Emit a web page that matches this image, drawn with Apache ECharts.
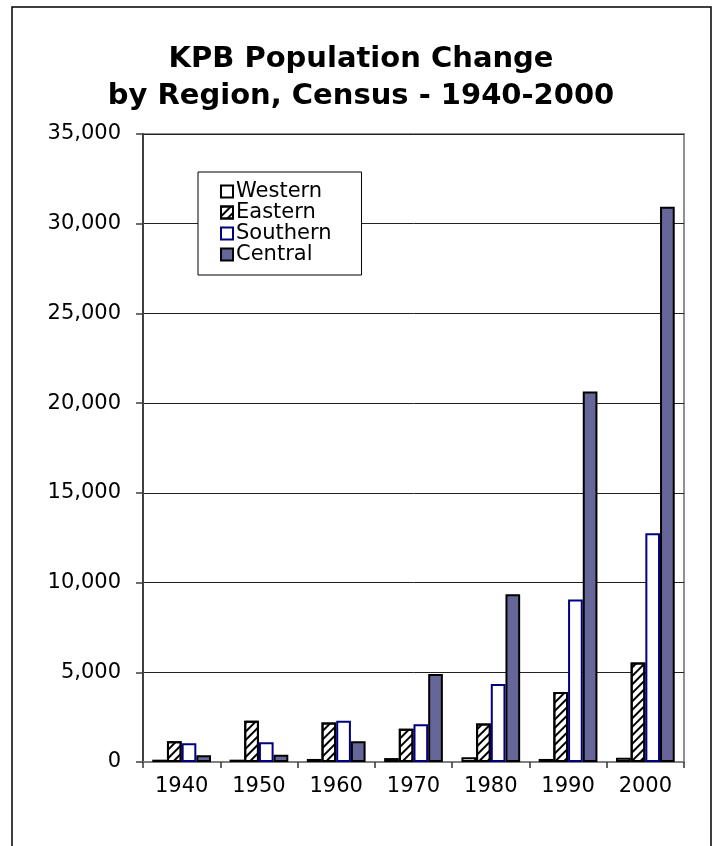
<!DOCTYPE html>
<html>
<head>
<meta charset="utf-8">
<script src="https://cdn.jsdelivr.net/npm/echarts@6/dist/echarts.min.js"></script>
<style>
html,body{margin:0;padding:0;background:#fff;}
#chart{width:722px;height:846px;}
</style>
</head>
<body>
<div id="chart"></div>
<script>
var categories = ['1940', '1950', '1960', '1970', '1980', '1990', '2000'];
var western = [130, 130, 170, 220, 260, 170, 240];
var eastern = [1150, 2300, 2200, 1850, 2150, 3900, 5550];
var southern = [1050, 1100, 2300, 2100, 4350, 9050, 12750];
var central = [380, 400, 1150, 4900, 9350, 20650, 30950];
var seriesNames = ['Western', 'Eastern', 'Southern', 'Central'];
var titleLines = ['KPB Population Change', 'by Region, Census - 1940-2000'];

var FONT = 'DejaVu Sans';
var chart = echarts.init(document.getElementById('chart'), null, {renderer: 'canvas'});

var option = {
  backgroundColor: '#fff',
  animation: false,
  title: {
    text: titleLines.join('\n'),
    left: 'center',
    top: 36,
    textStyle: {fontFamily: FONT, fontWeight: 'bold', fontSize: 29, lineHeight: 37, color: '#000'}
  },
  graphic: [{
    type: 'rect',
    shape: {x: 12, y: 7, width: 699, height: 900},
    style: {fill: 'none', stroke: '#000', lineWidth: 1.5},
    silent: true
  }],
  legend: {
    orient: 'vertical',
    left: 198,
    top: 172,
    data: seriesNames,
    icon: 'rect',
    itemWidth: 12,
    itemHeight: 12,
    itemGap: 0,
    padding: [9, 30, 10, 22],
    borderColor: '#000',
    borderWidth: 1,
    backgroundColor: '#fff',
    textStyle: {fontFamily: FONT, fontSize: 21, lineHeight: 21, color: '#000', padding: [0, 0, 0, -2]}
  },
  grid: {
    left: 143, top: 134, right: 38, bottom: 84,
    show: true, borderColor: '#909090', borderWidth: 2, backgroundColor: 'transparent'
  },
  xAxis: {
    type: 'category',
    data: categories,
    axisLine: {lineStyle: {color: '#808080', width: 2}},
    axisTick: {show: true, length: 6, lineStyle: {color: '#333', width: 1.5}},
    axisLabel: {fontFamily: FONT, fontSize: 21, color: '#000', margin: 14}
  },
  yAxis: {
    type: 'value',
    min: 0, max: 35000, interval: 5000,
    axisLine: {show: true, lineStyle: {color: '#404040', width: 2}},
    axisTick: {show: true, length: 7, lineStyle: {color: '#404040', width: 1.5}},
    splitLine: {lineStyle: {color: '#222', width: 1}},
    axisLabel: {
      fontFamily: FONT, fontSize: 21, color: '#000', margin: 22,
      formatter: function (v) { return v.toLocaleString('en-US'); }
    }
  },
  series: [
    {
      name: seriesNames[0], type: 'bar', data: western,
      barGap: '0%', barCategoryGap: '24%',
      itemStyle: {color: '#fff', borderColor: '#000', borderWidth: 2}
    },
    {
      name: seriesNames[1], type: 'bar', data: eastern,
      barGap: '0%', barCategoryGap: '24%',
      itemStyle: {
        color: '#fff', borderColor: '#000', borderWidth: 2,
        decal: {
          symbol: 'rect', symbolSize: 1,
          dashArrayX: [1, 0], dashArrayY: [2, 4],
          rotation: -Math.PI / 4, color: '#000'
        }
      }
    },
    {
      name: seriesNames[2], type: 'bar', data: southern,
      barGap: '0%', barCategoryGap: '24%',
      itemStyle: {color: '#fff', borderColor: '#000080', borderWidth: 2}
    },
    {
      name: seriesNames[3], type: 'bar', data: central,
      barGap: '0%', barCategoryGap: '24%',
      itemStyle: {color: '#666699', borderColor: '#000', borderWidth: 2}
    }
  ]
};
chart.setOption(option);
</script>
</body>
</html>
